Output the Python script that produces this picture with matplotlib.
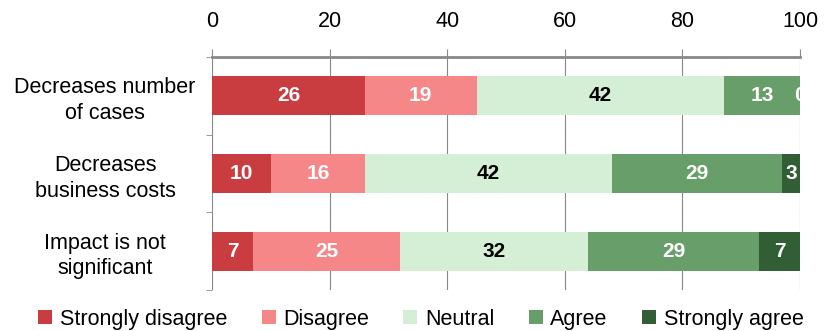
import numpy as np
import matplotlib.pyplot as plt

categories = ["Decreases number\nof cases", "Decreases\nbusiness costs", "Impact is not\nsignificant"]
series = ["Strongly disagree", "Disagree", "Neutral", "Agree", "Strongly agree"]
strongly_disagree = [26, 10, 7]
disagree = [19, 16, 25]
neutral = [42, 42, 32]
agree = [13, 29, 29]
strongly_agree = [0, 3, 7]

colors = ["#C93C40", "#F58788", "#D5EFD6", "#679E69", "#325E35"]
text_colors = ["white", "white", "black", "white", "white"]

plt.rcParams['font.family'] = ['Liberation Sans', 'DejaVu Sans']

fig = plt.figure(figsize=(8.3, 3.31), dpi=100)
ax = fig.add_axes([0.2554, 0.124, 0.7085, 0.704])

y = np.arange(len(categories))
left = np.zeros(len(categories))
values = [strongly_disagree, disagree, neutral, agree, strongly_agree]
for vals, name, c, tc in zip(values, series, colors, text_colors):
    vals = np.array(vals)
    ax.barh(y, vals, left=left, height=0.5, color=c, label=name, zorder=3)
    for yi, (l, v) in enumerate(zip(left, vals)):
        ax.text(l + v / 2, yi, str(v), ha="center", va="center", color=tc,
                fontsize=15, fontweight="bold", zorder=4, clip_on=True)
    left = left + vals

ax.set_xlim(0, 100)
ax.set_ylim(2.5, -0.5)
ax.xaxis.tick_top()
ax.set_xticks(range(0, 101, 20))
ax.tick_params(axis="x", length=6, color="#888888", labelsize=15.5, pad=12)
ax.grid(axis="x", color="#888888", linewidth=0.8, zorder=0)

ax.set_yticks(y)
ax.set_yticklabels(categories, fontsize=15.5, ha="center", linespacing=1.3)
ax.tick_params(axis="y", which="major", length=0, pad=77)
ax.set_yticks([-0.5, 0.5, 1.5, 2.5], minor=True)
ax.tick_params(axis="y", which="minor", length=4, color="#888888")

for s in ["left", "right", "bottom"]:
    ax.spines[s].set_visible(False)
ax.spines["top"].set_color("#888888")
ax.spines["top"].set_linewidth(2)

fig.legend(loc="lower center", bbox_to_anchor=(0.507, -0.055), ncol=5, frameon=False,
           fontsize=15.5, handlelength=0.65, handleheight=0.65, handletextpad=0.35,
           columnspacing=1.6)

fig.savefig("out.png", dpi=100)
